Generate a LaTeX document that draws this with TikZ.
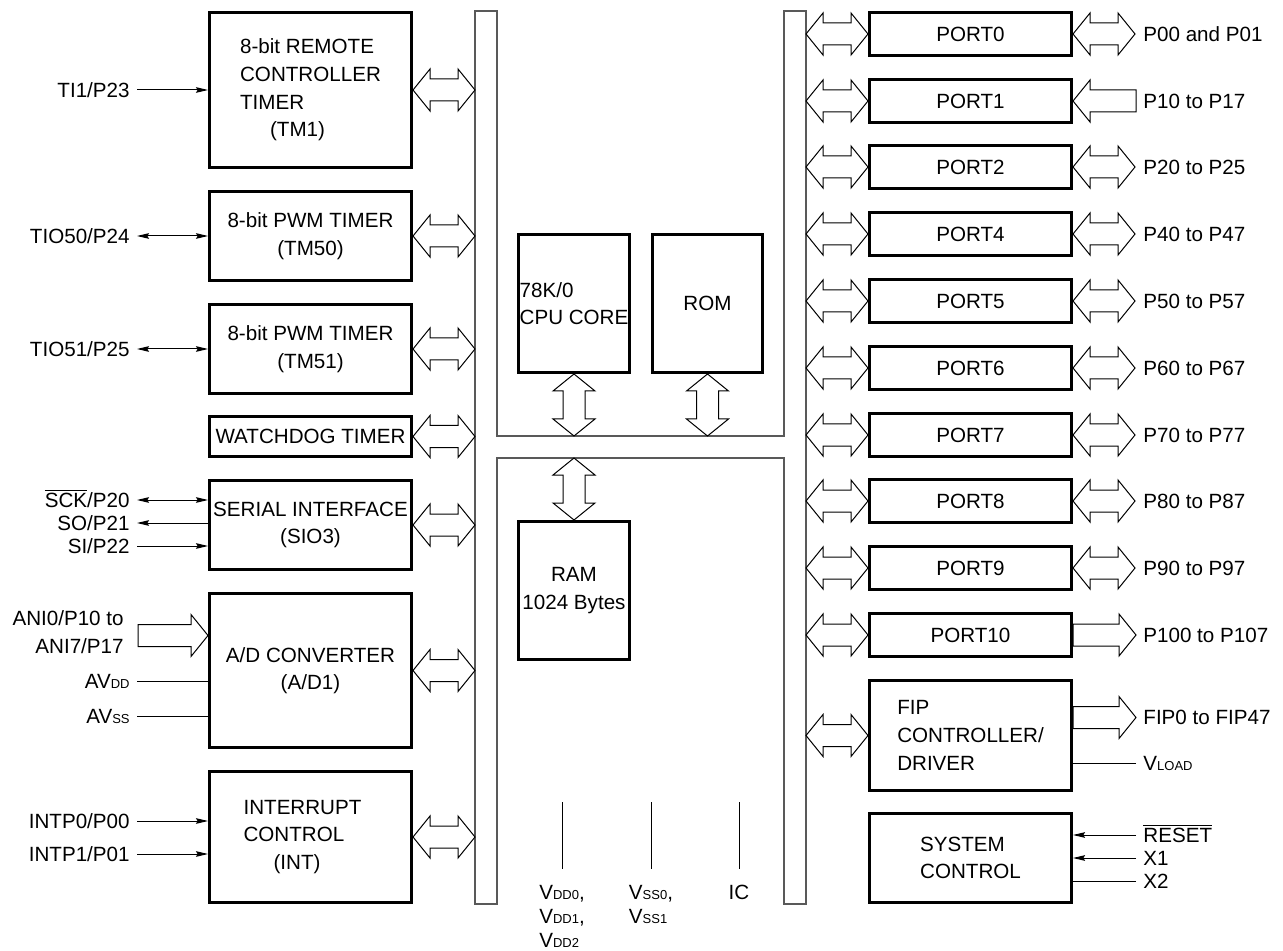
\documentclass[tikz,border=0pt]{standalone}
\usepackage{fontspec}
\setmainfont{Liberation Sans}
\usetikzlibrary{arrows.meta,calc}

\newcommand\sm[1]{{\fontsize{6.5}{8}\selectfont #1}}

\tikzset{
  blk/.style={draw, line width=1.5pt, inner sep=0pt},
  wh/.style 2 args={minimum width=#1*0.5pt, minimum height=#2*0.5pt},
  sig/.style={line width=0.5pt},
  hollow/.style={draw, line width=0.5pt, fill=white, line join=miter},
  bus/.style={draw=black!65, line width=0.6pt},
  lbl/.style={inner sep=3.5pt, text height=7.4pt, text depth=0pt},
  pinlbl/.style={below=8pt, align=left, inner sep=0pt, font=\fontsize{10.3}{12}\selectfont},
  dblh/.pic={\draw[hollow] (0,0) -- (17,-21) -- (17,-11) -- (45,-11) -- (45,-21) -- (62,0)
      -- (45,21) -- (45,11) -- (17,11) -- (17,21) -- cycle;},
  dblv/.pic={\draw[hollow] (0,0) -- (-21,17) -- (-11,17) -- (-11,45) -- (-21,45) -- (0,62)
      -- (21,45) -- (11,45) -- (11,17) -- (21,17) -- cycle;},
  outh/.pic={\draw[hollow] (0,-11) -- (#1-17,-11) -- (#1-17,-21) -- (#1,0) -- (#1-17,21)
      -- (#1-17,11) -- (0,11) -- cycle;},
  inh/.pic={\draw[hollow] (0,0) -- (17,-21) -- (17,-11) -- (#1,-11) -- (#1,11) -- (17,11)
      -- (17,21) -- cycle;},
}

\begin{document}
\begin{tikzpicture}[x=0.5pt,y=-0.5pt,
    font=\fontsize{10.3}{13.8}\selectfont,
    >={Stealth[length=6pt,width=2.8pt,inset=0.8pt]}]
  \useasboundingbox (0,0) rectangle (1283,951);

  % internal bus
  \coordinate (busL) at (475,0);
  \coordinate (busR) at (806,0);
  \coordinate (busB) at (0,458);
  \draw[bus] (475,11) -- (497,11) -- (497,436) -- (784,436) -- (784,11) -- (806,11)
    -- (806,904) -- (784,904) -- (784,458) -- (497,458) -- (497,904) -- (475,904) -- cycle;

  % left blocks
  \node[blk, wh={202}{155}, align=left] (tm1) at (310.5,90)
    {8-bit REMOTE\\CONTROLLER\\TIMER\\\hspace*{15pt}(TM1)};
  \node[blk, wh={202}{89}, align=center] (tm50) at (310.5,236) {8-bit PWM TIMER\\(TM50)};
  \node[blk, wh={202}{89}, align=center] (tm51) at (310.5,349) {8-bit PWM TIMER\\(TM51)};
  \node[blk, wh={202}{40}] (wdt) at (310.5,436.5) {WATCHDOG TIMER};
  \node[blk, wh={202}{89}, align=center] (sio) at (310.5,525) {SERIAL INTERFACE\\(SIO3)};
  \node[blk, wh={202}{154}, align=center] (adc) at (310.5,670.5) {A/D CONVERTER\\(A/D1)};
  \node[blk, wh={202}{131}, align=left] (intc) at (310.5,837)
    {INTERRUPT\hspace*{8pt}\\CONTROL\\\hspace*{15pt}(INT)};

  \foreach \b in {tm1,tm50,tm51,wdt,sio,adc,intc}
    \path (\b.east) pic {dblh};

  % core
  \node[blk, wh={111}{138}, align=left] (cpu) at (574,303.5) {78K/0\\CPU CORE};
  \node[blk, wh={110}{138}] (rom) at (707.5,303.5) {ROM};
  \node[blk, wh={111}{138}, align=center] (ram) at (574,590.5) {RAM\\1024 Bytes};
  \path (cpu.south) pic {dblv};
  \path (rom.south) pic {dblv};
  \path (ram.north |- busB) pic {dblv};

  % left signals
  \node[lbl, anchor=east] (ti1) at (137,90) {TI1/P23};
  \draw[sig,->] (ti1.east) -- (ti1.east -| tm1.west);
  \node[lbl, anchor=east] (tio50) at (137,236) {TIO50/P24};
  \draw[sig,<->] (tio50.east) -- (tio50.east -| tm50.west);
  \node[lbl, anchor=east] (tio51) at (137,349) {TIO51/P25};
  \draw[sig,<->] (tio51.east) -- (tio51.east -| tm51.west);
  \node[lbl, anchor=east] (sck) at (137,500) {$\overline{\mbox{SCK}}$/P20};
  \draw[sig,<->] (sck.east) -- (sck.east -| sio.west);
  \node[lbl, anchor=east] (so) at (137,523) {SO/P21};
  \draw[sig,<-] (so.east) -- (so.east -| sio.west);
  \node[lbl, anchor=east] (si) at (137,546) {SI/P22};
  \draw[sig,->] (si.east) -- (si.east -| sio.west);
  \node[align=right, inner sep=0pt, anchor=east] (ani) at (124,632) {ANI0/P10 to\\ANI7/P17};
  \path (adc.west) ++(-70,-35) pic {outh=70};
  \node[lbl, anchor=east] (avdd) at (137,681) {AV\sm{DD}};
  \draw[sig] (avdd.east) -- (avdd.east -| adc.west);
  \node[lbl, anchor=east] (avss) at (137,716) {AV\sm{SS}};
  \draw[sig] (avss.east) -- (avss.east -| adc.west);
  \node[lbl, anchor=east] (intp0) at (137,821) {INTP0/P00};
  \draw[sig,->] (intp0.east) -- (intp0.east -| intc.west);
  \node[lbl, anchor=east] (intp1) at (137,854) {INTP1/P01};
  \draw[sig,->] (intp1.east) -- (intp1.east -| intc.west);

  % ports
  \foreach \n/\t in {0/11,1/78,2/144,4/211,5/278,6/345,7/412,8/478,9/545,10/612}{
    \node[blk, wh={202}{43}] (p\n) at (970.5,\t+23) {PORT\n};
    \path (busR |- p\n) pic {dblh};
  }
  \foreach \n/\pins in {0/{P00 and P01},2/{P20 to P25},4/{P40 to P47},5/{P50 to P57},
      6/{P60 to P67},7/{P70 to P77},8/{P80 to P87},9/{P90 to P97}}{
    \path (p\n.east) pic {dblh};
    \node[lbl, anchor=west] (pin\n) at ($(p\n.east)+(63,0)$) {\pins};
  }
  \path (p1.east) pic {inh=63};
  \node[lbl, anchor=west] (pin1) at ($(p1.east)+(63,0)$) {P10 to P17};
  \path (p10.east) pic {outh=63};
  \node[lbl, anchor=west] (pin10) at ($(p10.east)+(63,0)$) {P100 to P107};

  % FIP and system
  \node[blk, wh={202}{110}, align=left] (fip) at (970.5,735.5) {FIP\\CONTROLLER/\\DRIVER};
  \node[blk, wh={202}{89}, align=left] (sysc) at (970.5,858) {SYSTEM\\CONTROL};
  \path (busR |- fip) pic {dblh};
  \path (fip.east) ++(0,-18) pic {outh=63};
  \node[lbl, anchor=west] (fipo) at (1136,717) {FIP0 to FIP47};
  \node[lbl, anchor=west] (vload) at (1136,763) {V\sm{LOAD}};
  \draw[sig] (vload.west) -- (vload.west -| fip.east);
  \node[lbl, anchor=west] (rst) at (1136,835) {$\overline{\mbox{RESET}}$};
  \draw[sig,->] (rst.west) -- (rst.west -| sysc.east);
  \node[lbl, anchor=west] (x1) at (1136,858) {X1};
  \draw[sig,->] (x1.west) -- (x1.west -| sysc.east);
  \node[lbl, anchor=west] (x2) at (1136,881) {X2};
  \draw[sig] (x2.west) -- (x2.west -| sysc.east);

  % supply pins
  \draw[sig] (562,802) coordinate (vddt) -- ++(0,67)
    node[pinlbl] (vdd) {V\sm{DD0},\\V\sm{DD1},\\V\sm{DD2}};
  \draw[sig] (651,802) coordinate (vsst) -- ++(0,67)
    node[pinlbl] (vss) {V\sm{SS0},\\V\sm{SS1}};
  \draw[sig] (739,802) coordinate (ict) -- ++(0,67)
    node[pinlbl] (ic) {IC};
\end{tikzpicture}
\end{document}
